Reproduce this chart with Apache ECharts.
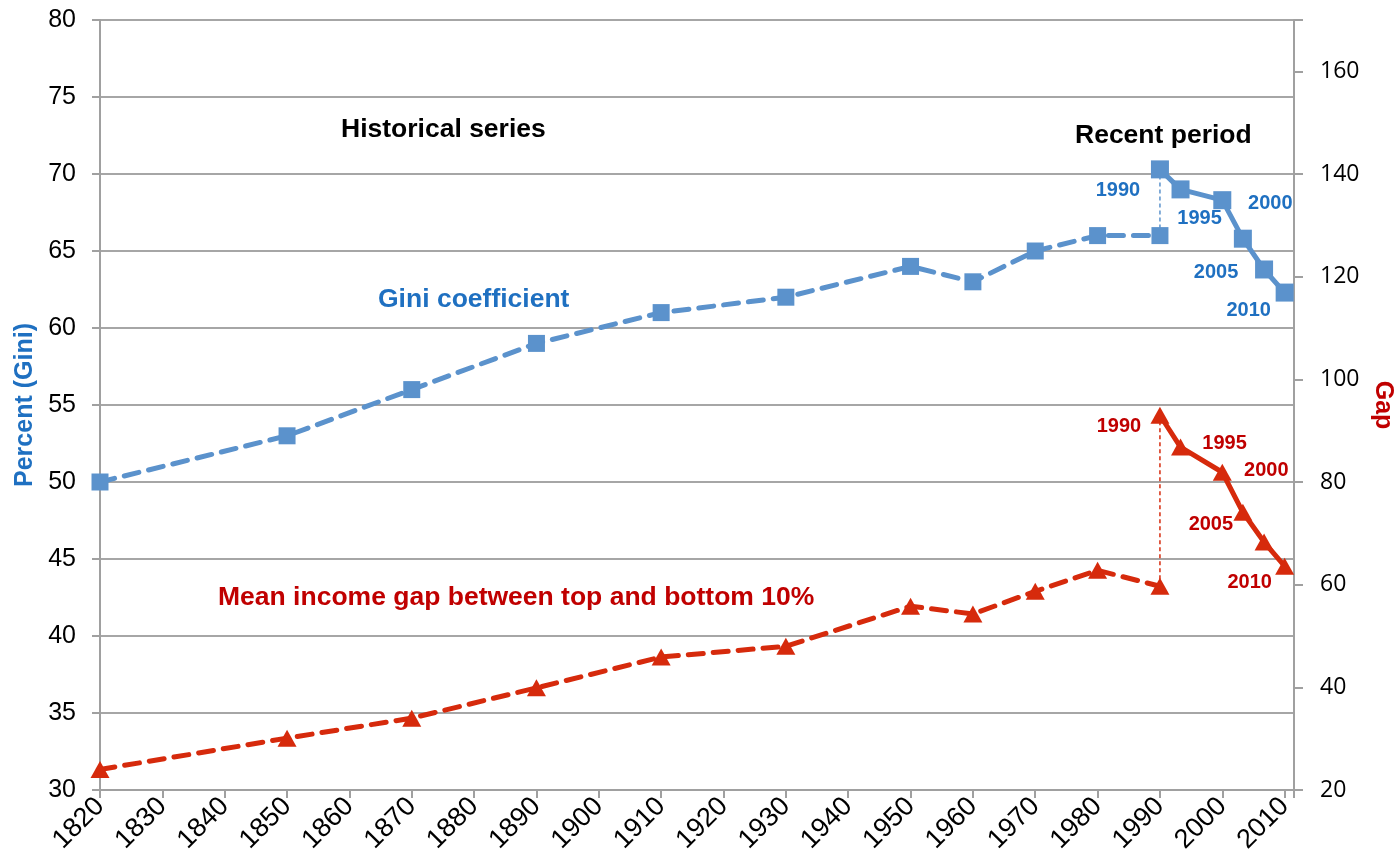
<!DOCTYPE html>
<html>
<head>
<meta charset="utf-8">
<script src="https://cdn.jsdelivr.net/npm/echarts@6/dist/echarts.min.js"></script>
<style>
  html, body { margin: 0; padding: 0; background: #fff; }
  #chart { width: 1396px; height: 863px; }
</style>
</head>
<body>
<div id="chart"></div>
<script>
// historical series (every 10-20 years)
const histYears = [1820, 1850, 1870, 1890, 1910, 1930, 1950, 1960, 1970, 1980, 1990];
const giniHist = [50, 53, 56, 59, 61, 62, 64, 63, 65, 66, 66];
const gapHist = [24, 30.1, 34, 39.9, 45.9, 48, 55.8, 54.3, 58.7, 62.8, 59.7];

// recent period
const recentYears = [1990, 1993.3, 2000, 2003.3, 2006.7, 2010];
const giniRecent = [70.3, 69.0, 68.3, 65.8, 63.8, 62.3];
const gapRecent = [93.0, 86.8, 81.9, 74.1, 68.3, 63.6];

// point labels of the recent period
const giniRecentLabels = ["1990", "1995", "2000", "", "2005", "2010"];
const gapRecentLabels = ["1990", "1995", "2000", "2005", "", "2010"];

const BLUE = "#5B92CC";
const BLUE_TXT = "#1F70C1";
const RED = "#D62A0C";
const RED_TXT = "#C00000";
const FONT = "Liberation Sans, Arial, sans-serif";

const chart = echarts.init(document.getElementById("chart"));

// label offsets for each recent point
const giniOffsets = [[-42, 21], [19, 29], [48, 3], [0, 0], [-48, 3], [-36, 18]];
const gapOffsets = [[-41, 11], [44, -4], [44, -2], [-32, 12], [0, 0], [-35, 16]];

function recentData(years, values, labels, offsets) {
  return years.map((y, i) => ({
    value: [y, values[i]],
    label: {
      show: labels[i] !== "",
      formatter: labels[i],
      offset: offsets[i],
    },
  }));
}

const option = {
  animation: false,
  grid: { left: 100, right: 102, top: 20, bottom: 73, outerBoundsMode: "none", containLabel: false },
  xAxis: {
    type: "value",
    min: 1820,
    max: 2011.5,
    interval: 10,
    axisLine: { onZero: false, lineStyle: { color: "#A0A0A0", width: 2 } },
    axisTick: { length: 8, lineStyle: { color: "#A0A0A0", width: 2 } },
    splitLine: { show: false },
    axisLabel: {
      rotate: 45,
      margin: 12,
      color: "#000",
      fontSize: 27,
      fontFamily: FONT,
      hideOverlap: false,
      formatter: (v) => (v % 10 === 0 ? String(v) : ""),
    },
  },
  yAxis: [
    {
      type: "value",
      min: 30,
      max: 80,
      interval: 5,
      name: "Percent (Gini)",
      nameLocation: "middle",
      nameGap: 61,
      nameTextStyle: { color: BLUE_TXT, fontSize: 25, fontWeight: "bold", fontFamily: FONT },
      axisLine: { show: true, lineStyle: { color: "#A0A0A0", width: 2 } },
      axisTick: { show: true, length: 8, lineStyle: { color: "#A0A0A0", width: 2 } },
      splitLine: { show: true, lineStyle: { color: "#A6A6A6", width: 2 } },
      axisLabel: { margin: 24, color: "#000", fontSize: 25, fontFamily: FONT },
    },
    {
      type: "value",
      min: 20,
      max: 170,
      interval: 20,
      name: "Gap",
      nameLocation: "middle",
      nameRotate: -90,
      nameGap: 74,
      nameTextStyle: { color: RED_TXT, fontSize: 25, fontWeight: "bold", fontFamily: FONT },
      axisLine: { show: true, lineStyle: { color: "#A0A0A0", width: 2 } },
      axisTick: { show: true, length: 9, lineStyle: { color: "#A0A0A0", width: 2 } },
      splitLine: { show: false },
      axisLabel: {
        margin: 26,
        color: "#000",
        fontSize: 23,
        fontFamily: "Open Sans, sans-serif",
        formatter: (v) => (v === 170 ? "" : String(v)),
      },
    },
  ],
  graphic: [
    { type: "text", left: 341, top: 116, style: { text: "Historical series", fill: "#000", font: "bold 26.5px " + FONT } },
    { type: "text", left: 1075, top: 122, style: { text: "Recent period", fill: "#000", font: "bold 26.5px " + FONT } },
    { type: "text", left: 378, top: 286, style: { text: "Gini coefficient", fill: BLUE_TXT, font: "bold 26.5px " + FONT } },
    { type: "text", left: 218, top: 584, style: { text: "Mean income gap between top and bottom 10%", fill: RED_TXT, font: "bold 26.5px " + FONT } },
  ],
  series: [
    {
      name: "Gini historical",
      type: "line",
      yAxisIndex: 0,
      data: histYears.map((y, i) => [y, giniHist[i]]),
      symbol: "rect",
      symbolSize: 17,
      itemStyle: { color: BLUE },
      lineStyle: { color: BLUE, width: 5, type: [15, 10], cap: "round" },
    },
    {
      name: "Gini link",
      type: "line",
      yAxisIndex: 0,
      data: [[1990, giniHist[giniHist.length - 1]], [1990, giniRecent[0]]],
      symbol: "none",
      lineStyle: { color: BLUE, width: 1.5, type: [4, 3] },
    },
    {
      name: "Gini recent",
      type: "line",
      yAxisIndex: 0,
      data: recentData(recentYears, giniRecent, giniRecentLabels, giniOffsets),
      symbol: "rect",
      symbolSize: 18,
      itemStyle: { color: BLUE },
      lineStyle: { color: BLUE, width: 5 },
      label: { position: "inside", color: BLUE_TXT, fontSize: 20, fontWeight: "bold", fontFamily: FONT },
    },
    {
      name: "Gap historical",
      type: "line",
      yAxisIndex: 1,
      data: histYears.map((y, i) => [y, gapHist[i]]),
      symbol: "triangle",
      symbolSize: [19, 17],
      itemStyle: { color: RED },
      lineStyle: { color: RED, width: 5, type: [15, 10], cap: "round" },
    },
    {
      name: "Gap link",
      type: "line",
      yAxisIndex: 1,
      data: [[1990, gapHist[gapHist.length - 1]], [1990, gapRecent[0]]],
      symbol: "none",
      lineStyle: { color: RED, width: 1.5, type: [4, 3] },
    },
    {
      name: "Gap recent",
      type: "line",
      yAxisIndex: 1,
      data: recentData(recentYears, gapRecent, gapRecentLabels, gapOffsets),
      symbol: "triangle",
      symbolSize: [19, 17],
      itemStyle: { color: RED },
      lineStyle: { color: RED, width: 5 },
      label: { position: "inside", color: RED_TXT, fontSize: 20, fontWeight: "bold", fontFamily: FONT },
    },
  ],
};

chart.setOption(option);
</script>
</body>
</html>
